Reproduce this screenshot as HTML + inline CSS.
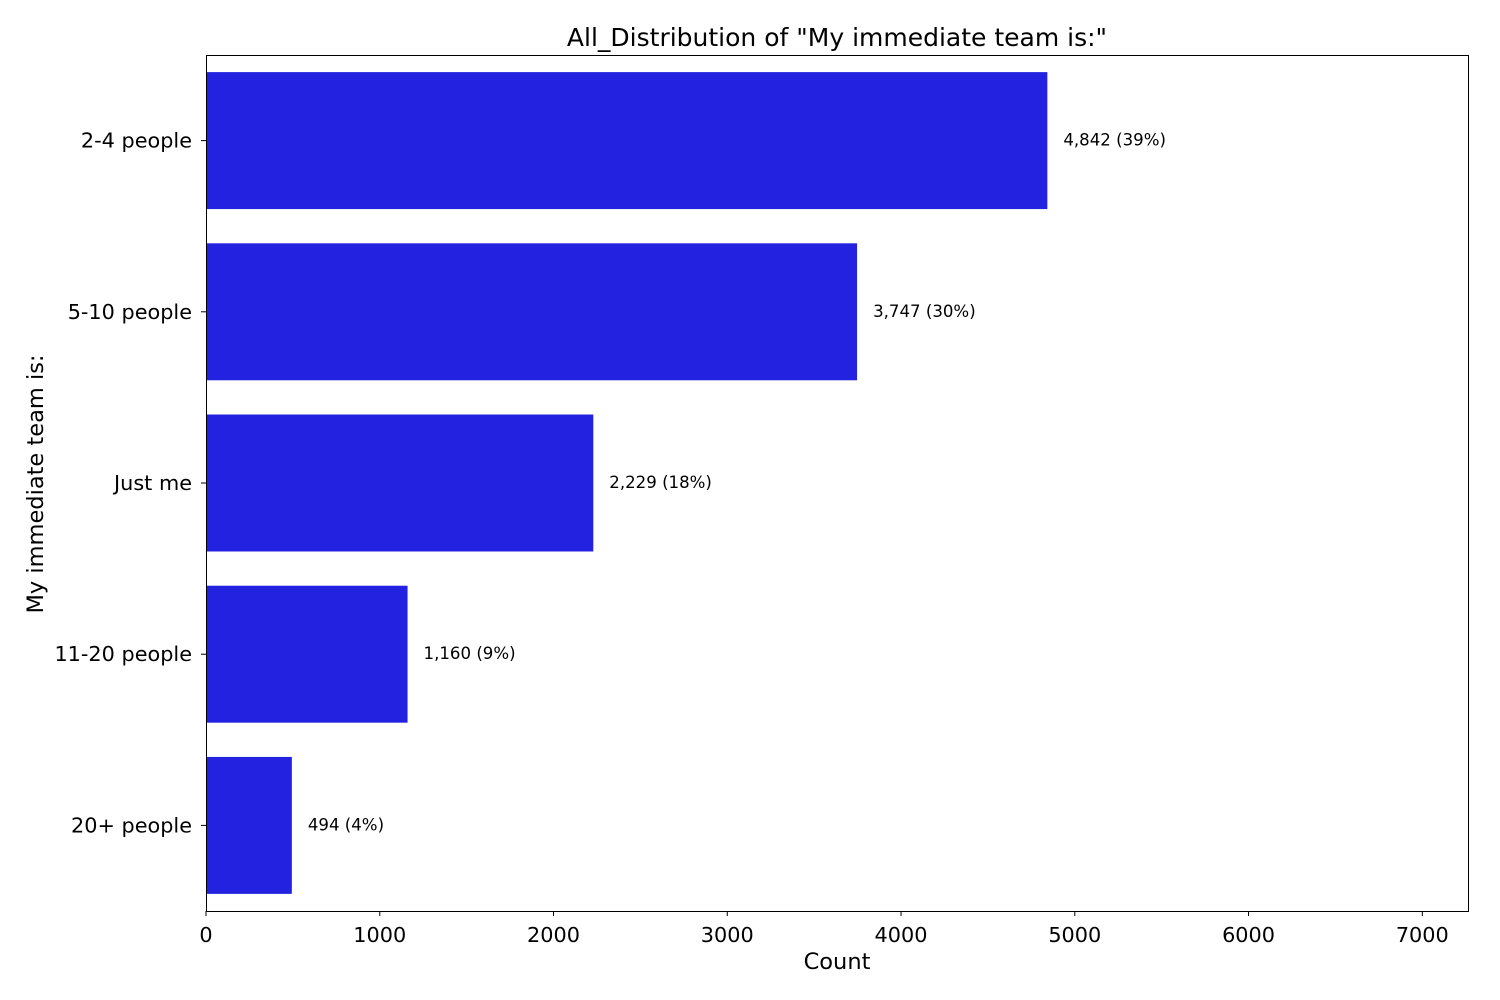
<!DOCTYPE html>
<html><head><meta charset="utf-8">
<style>
body{margin:0;background:#fff;}
svg{display:block;font-family:"DejaVu Sans","Liberation Sans",sans-serif;}
</style></head>
<body>
<svg id="chart" width="1500" height="1000" xmlns="http://www.w3.org/2000/svg">
<text x="837" y="46" font-size="25" text-anchor="middle">All_Distribution of "My immediate team is:"</text>
<text x="837" y="969" font-size="22.5" text-anchor="middle">Count</text>
<text transform="translate(43,484) rotate(-90)" font-size="22.5" text-anchor="middle">My immediate team is:</text>
<g id="plot"></g>
<rect x="206.5" y="55.5" width="1262" height="856" fill="none" stroke="#000" stroke-width="1"/>
</svg>
<script>
const categories = ["2-4 people","5-10 people","Just me","11-20 people","20+ people"];
const counts = [4842,3747,2229,1160,494];
const valueLabels = ["4,842 (39%)","3,747 (30%)","2,229 (18%)","1,160 (9%)","494 (4%)"];
const xTicks = [0,1000,2000,3000,4000,5000,6000,7000];

const L=206, R=1468, T=55, B=911;
const xMax = Math.max(...counts)*1.5;
const xs = v => L + v/xMax*(R-L);
const band = (B-T)/categories.length;
const yc = i => T + band*(i+0.5);
const NS="http://www.w3.org/2000/svg";
const g=document.getElementById('plot');
function mk(tag,attrs){const e=document.createElementNS(NS,tag);for(const k in attrs)e.setAttribute(k,attrs[k]);g.appendChild(e);return e;}

categories.forEach((c,i)=>{
  const h=band*0.8;
  const bar=mk('rect',{x:L,y:yc(i)-h/2,width:xs(counts[i])-L,height:h,fill:'#2222e0'});
  
  
  const vl=mk('text',{x:xs(counts[i])+16,y:yc(i)+5,'font-size':16.6});
  vl.textContent=valueLabels[i];
  
  
  const tk=mk('line',{x1:L-5,x2:L,y1:yc(i),y2:yc(i),stroke:'#000'});
  
  
  const tl=mk('text',{x:L-14,y:yc(i)+7,'font-size':20.8,'text-anchor':'end'});
  tl.textContent=c;
  
  
});
xTicks.forEach((t,i)=>{
  const tk=mk('line',{x1:xs(t),x2:xs(t),y1:B,y2:B+5,stroke:'#000'});
  
  
  const tl=mk('text',{x:xs(t),y:B+31,'font-size':20.8,'text-anchor':'middle'});
  tl.textContent=t;
  
  
});
</script>
</body></html>
